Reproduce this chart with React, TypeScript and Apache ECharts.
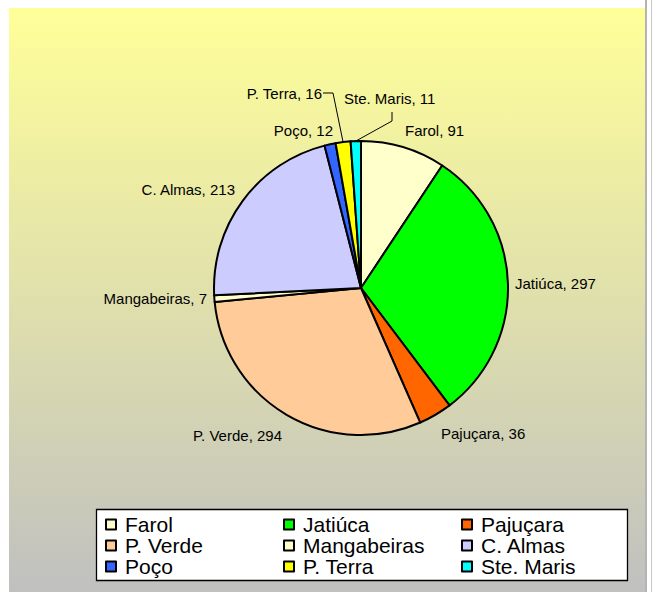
import React, { useEffect, useRef } from "react";
import * as echarts from "echarts";

// ---- data ----
const categories = ["Farol", "Jatiúca", "Pajuçara", "P. Verde", "Mangabeiras", "C. Almas", "Poço", "P. Terra", "Ste. Maris"];
const values = [91, 297, 36, 294, 7, 213, 12, 16, 11];
const colors = ["#FFFFCC", "#00FF00", "#FF6600", "#FFCC99", "#FFFFCC", "#CCCCFF", "#3366FF", "#FFFF00", "#00FFFF"];
const legendColumns = [
  ["Farol", "P. Verde", "Poço"],
  ["Jatiúca", "Mangabeiras", "P. Terra"],
  ["Pajuçara", "C. Almas", "Ste. Maris"],
];
const withLeaderLine = ["P. Terra", "Ste. Maris"];

// ---- layout (label placement, not data) ----
const FONT = "'Liberation Sans', Arial, Helvetica, sans-serif";
const PIE_CENTER = [361, 288];
const PIE_RADIUS = 147;
const labelPlacement: Record<string, { x: number; y: number; align: "left" | "right"; bend?: [number, number] }> = {
  "Farol": { x: 405, y: 130, align: "left" },
  "Jatiúca": { x: 515, y: 283, align: "left" },
  "Pajuçara": { x: 441, y: 433, align: "left" },
  "P. Verde": { x: 282, y: 435, align: "right" },
  "Mangabeiras": { x: 207, y: 298, align: "right" },
  "C. Almas": { x: 235, y: 189, align: "right" },
  "Poço": { x: 333, y: 130, align: "right" },
  "P. Terra": { x: 322, y: 93, align: "right", bend: [333, 93] },
  "Ste. Maris": { x: 344, y: 98, align: "left", bend: [392, 121] },
};

export default function App() {
  const ref = useRef<HTMLDivElement>(null);
  useEffect(() => {
    if (!ref.current) return;
    const chart = echarts.init(ref.current, null, { renderer: "svg" });
    const data = categories.map((name, i) => ({
      name,
      value: values[i],
      itemStyle: { color: colors[i] },
      labelLine: withLeaderLine.includes(name)
        ? { show: true, lineStyle: { color: "#000", width: 1 } }
        : { show: false },
    }));
    const legendLefts = [105, 283, 461];
    chart.setOption({
      animation: false,
      graphic: [
        {
          type: "rect",
          z: -10,
          shape: { x: 9, y: 8, width: 637, height: 584 },
          style: {
            fill: new echarts.graphic.LinearGradient(0, 0, 0, 1, [
              { offset: 0, color: "#FFFF99" },
              { offset: 1, color: "#C0C0C0" },
            ]),
          },
          silent: true,
        },
        { type: "rect", shape: { x: 645, y: 0, width: 2, height: 592 }, style: { fill: "#B4B4B4" }, silent: true },
        { type: "rect", shape: { x: 651, y: 0, width: 1, height: 592 }, style: { fill: "#C8C8C8" }, silent: true },
        {
          type: "rect",
          shape: { x: 96.5, y: 509.5, width: 531, height: 71 },
          style: { fill: "#FFFFFF", stroke: "#000", lineWidth: 1.3 },
          silent: true,
        },
      ],
      legend: legendColumns.map((col, i) => ({
        data: col,
        orient: "vertical",
        left: legendLefts[i],
        top: 514,
        padding: 0,
        itemGap: 0,
        itemWidth: 10,
        itemHeight: 10,
        icon: "rect",
        selectedMode: false,
        itemStyle: { borderColor: "#000", borderWidth: 2 },
        textStyle: { fontSize: 21, lineHeight: 21, color: "#000", fontFamily: FONT, padding: [0, 0, 0, 4] },
      })),
      series: [
        {
          type: "pie",
          center: PIE_CENTER,
          radius: PIE_RADIUS,
          startAngle: 90,
          clockwise: true,
          avoidLabelOverlap: false,
          silent: true,
          data,
          itemStyle: { borderColor: "#000", borderWidth: 2 },
          label: {
            show: true,
            position: "outside",
            formatter: "{b}, {c}",
            fontSize: 15,
            color: "#000",
            fontFamily: FONT,
          },
          labelLine: { length: 10, length2: 10 },
          emphasis: { disabled: true },
          labelLayout: (params: any) => {
            const name = categories[params.dataIndex];
            const p = labelPlacement[name];
            if (!p) return {};
            const res: any = { x: p.x, y: p.y, align: p.align, verticalAlign: "middle" };
            if (p.bend && params.labelLinePoints) {
              const start = params.labelLinePoints[0];
              const endX = p.align === "right" ? p.x + 1 : p.bend[0];
              const endY = p.align === "right" ? p.y : p.y + 14;
              res.labelLinePoints = [start, p.bend, [endX, endY]];
            }
            return res;
          },
        },
      ],
    });
    return () => chart.dispose();
  }, []);
  return (
    <div
      ref={ref}
      style={{ position: "absolute", left: 0, top: 0, width: 652, height: 592, background: "#FFFFFF" }}
    />
  );
}
